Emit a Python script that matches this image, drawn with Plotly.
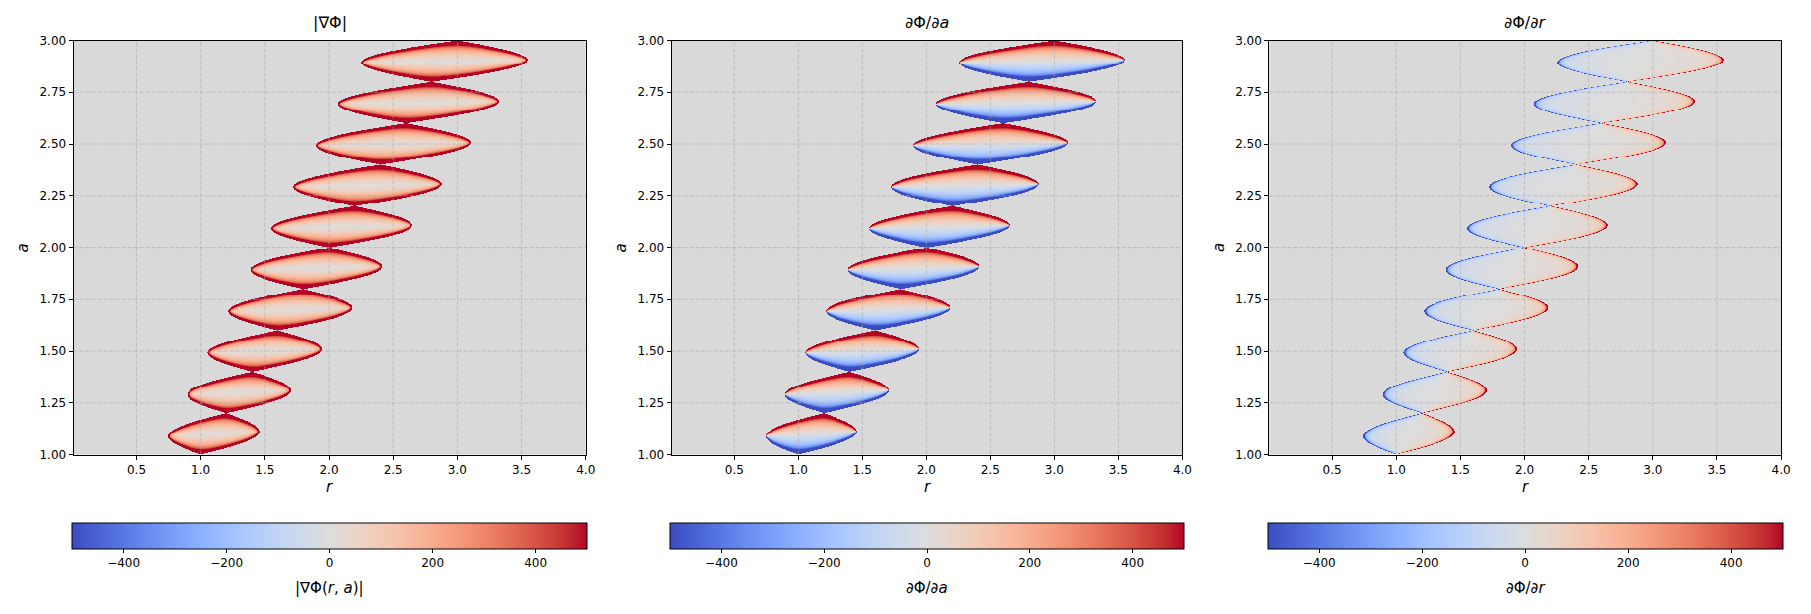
import numpy as np
import plotly.graph_objects as go

# ---------------- values ----------------
lobe_a_start = [1.0, 1.2, 1.4, 1.6, 1.8, 2.0, 2.2, 2.4, 2.6, 2.8]      # bottom pinch of each lobe (r = a there)
lobe_half_width = [0.35, 0.40, 0.44, 0.48, 0.51, 0.545, 0.575, 0.60, 0.625, 0.645]  # max half width in r
lobe_a_span = 0.2
grad_scale = 6.0

r_range = [0.01, 4.0]
a_range = [1.0, 3.0]
x_ticks = [0.5, 1.0, 1.5, 2.0, 2.5, 3.0, 3.5, 4.0]
y_ticks = [1.00, 1.25, 1.50, 1.75, 2.00, 2.25, 2.50, 2.75, 3.00]
cbar_ticks = [-400, -200, 0, 200, 400]
cbar_range = [-500, 500]
panel_titles = ["|∇Φ|", "∂Φ/∂<i>a</i>", "∂Φ/∂<i>r</i>"]
cbar_titles = ["|∇Φ(<i>r</i>, <i>a</i>)|", "∂Φ/∂<i>a</i>", "∂Φ/∂<i>r</i>"]

# matplotlib "coolwarm"
coolwarm_rgb = [
    (59, 76, 192), (68, 90, 204), (77, 104, 215), (87, 117, 225), (98, 130, 234),
    (108, 142, 241), (119, 154, 247), (130, 165, 251), (141, 176, 254), (152, 185, 255),
    (163, 194, 255), (174, 201, 253), (184, 208, 249), (194, 213, 244), (204, 217, 238),
    (213, 219, 230), (221, 221, 221), (229, 216, 209), (236, 211, 197), (241, 204, 185),
    (245, 196, 173), (247, 187, 160), (247, 177, 148), (247, 166, 135), (244, 154, 123),
    (241, 141, 111), (236, 127, 99), (229, 112, 88), (222, 96, 77), (213, 80, 66),
    (203, 62, 56), (192, 40, 47), (180, 4, 38)]
coolwarm = [[i / (len(coolwarm_rgb) - 1), "rgb(%d,%d,%d)" % c] for i, c in enumerate(coolwarm_rgb)]

# ---------------- field on a grid: Phi = -K log(W(a)^2 - (r-a)^2) ----------------
r = np.linspace(r_range[0], r_range[1], 520)
a = np.linspace(a_range[0], a_range[1], 424)
R, A = np.meshgrid(r, a)
d_r = np.full(R.shape, np.nan)
d_a = np.full(R.shape, np.nan)
K = grad_scale
for a0, amp in zip(lobe_a_start, lobe_half_width):
    t = (A - a0) / lobe_a_span
    W = amp * np.sin(np.pi * t)
    Wp = amp * np.pi / lobe_a_span * np.cos(np.pi * t)
    x = R - A
    inside = (t > 0) & (t < 1) & (np.abs(x) < W)
    h = np.where(inside, W ** 2 - x ** 2, 1.0)
    d_r = np.where(inside, 2 * K * x / h, d_r)
    d_a = np.where(inside, -2 * K * (W * Wp + x) / h, d_a)
g_mag = np.sqrt(d_r ** 2 + d_a ** 2)
fields = [g_mag, d_a, d_r]

# ---------------- layout ----------------
FW, FH = 1811, 614
panels_px = [(74.0, 589.0), (675.3, 1189.0), (1276.3, 1791.0)]
top_px, bottom_px = 34.3, 458.0
cb_top, cb_h = 528.0, 26.0
font = "DejaVu Sans"

fig = go.Figure()
annotations = []
shapes = []
for i, (f, (x0, x1)) in enumerate(zip(fields, panels_px)):
    k = "" if i == 0 else str(i + 1)
    z = np.round(np.clip(f, -600, 600), 1)
    fig.add_trace(go.Heatmap(x=r, y=a, z=z, coloraxis="coloraxis" + k,
                             xaxis="x" + k, yaxis="y" + k, zsmooth=False,
                             hoverongaps=False))
    dom_x = [x0 / FW, x1 / FW]
    dom_y = [1 - bottom_px / FH, 1 - top_px / FH]
    ax_common = dict(showline=True, mirror=True, linecolor="black", linewidth=1,
                     ticks="outside", ticklen=4, tickcolor="black", tickwidth=1,
                     showgrid=False, zeroline=False,
                     tickfont=dict(family=font, size=12, color="black"))
    fig.layout["xaxis" + k] = dict(domain=dom_x, range=r_range, anchor="y" + k,
                                   tickvals=x_ticks, ticktext=["%.1f" % v for v in x_ticks], **ax_common)
    fig.layout["yaxis" + k] = dict(domain=dom_y, range=a_range, anchor="x" + k,
                                   tickvals=y_ticks, ticktext=["%.2f" % v for v in y_ticks], **ax_common)
    fig.layout["coloraxis" + k] = dict(
        colorscale=coolwarm, cmin=cbar_range[0], cmax=cbar_range[1],
        colorbar=dict(orientation="h", x=(x0 + x1) / 2 / FW, xanchor="center",
                      y=1 - cb_top / FH, yanchor="top", len=x1 - x0, lenmode="pixels",
                      thickness=cb_h, thicknessmode="pixels", outlinewidth=1, outlinecolor="black",
                      xpad=0, ypad=0, tickvals=cbar_ticks, ticks="outside", ticklen=4,
                      tickcolor="black", tickfont=dict(family=font, size=12, color="black")))
    # dashed grid drawn over the image
    for xv in x_ticks:
        if r_range[0] < xv < r_range[1]:
            shapes.append(dict(type="line", xref="x" + k, yref="y" + k + " domain", x0=xv, x1=xv, y0=0, y1=1,
                               line=dict(color="rgba(170,170,170,0.6)", width=1, dash="4px,2px"), layer="above"))
    for yv in y_ticks:
        if a_range[0] < yv < a_range[1]:
            shapes.append(dict(type="line", xref="x" + k + " domain", yref="y" + k, x0=0, x1=1, y0=yv, y1=yv,
                               line=dict(color="rgba(170,170,170,0.6)", width=1, dash="4px,2px"), layer="above"))
    cx = (x0 + x1) / 2 / FW
    annotations.append(dict(text=panel_titles[i], x=cx, y=1 - 16 / FH, xref="paper", yref="paper",
                            showarrow=False, xanchor="center", yanchor="middle",
                            font=dict(family=font, size=16, color="black")))
    annotations.append(dict(text="<i>r</i>", x=cx, y=1 - 491 / FH, xref="paper", yref="paper",
                            showarrow=False, xanchor="center", yanchor="middle",
                            font=dict(family=font, size=15, color="black")))
    annotations.append(dict(text="<i>a</i>", x=(x0 - 51) / FW, y=1 - (top_px + bottom_px) / 2 / FH,
                            xref="paper", yref="paper", showarrow=False, textangle=-90,
                            xanchor="center", yanchor="middle",
                            font=dict(family=font, size=15, color="black")))
    annotations.append(dict(text=cbar_titles[i], x=cx, y=1 - 595 / FH, xref="paper", yref="paper",
                            showarrow=False, xanchor="center", yanchor="middle",
                            font=dict(family=font, size=15, color="black")))

fig.update_layout(width=FW, height=FH, margin=dict(l=0, r=0, t=0, b=0),
                  paper_bgcolor="white", plot_bgcolor="#d9d9d9",
                  annotations=annotations, shapes=shapes, showlegend=False)
fig.write_html("out.html")
